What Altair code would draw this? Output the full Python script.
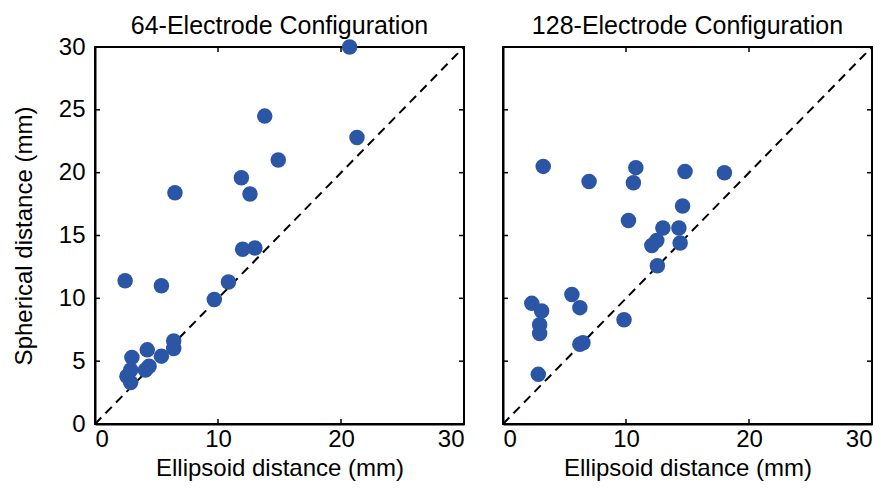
import altair as alt
import pandas as pd

# 64-electrode configuration
x64 = [20.7, 13.8, 21.3, 14.9, 11.9, 6.5, 12.6, 12.0, 13.0, 2.45, 5.4, 10.85, 9.7,
       6.4, 6.4, 4.25, 5.4, 3.0, 4.4, 4.1, 2.6, 2.9, 2.9]
y64 = [30.0, 24.5, 22.8, 21.0, 19.6, 18.4, 18.3, 13.9, 14.0, 11.4, 11.0, 11.3, 9.9,
       6.6, 6.0, 5.9, 5.4, 5.3, 4.6, 4.3, 3.8, 3.3, 4.3]

# 128-electrode configuration
x128 = [3.27, 7.0, 10.8, 10.6, 14.8, 18.0, 14.6, 10.2, 13.0, 14.3, 12.5, 12.1, 14.4,
        12.55, 2.34, 5.6, 3.14, 6.25, 2.98, 2.98, 9.84, 6.25, 6.5, 2.87]
y128 = [20.5, 19.3, 20.4, 19.2, 20.1, 20.0, 17.35, 16.2, 15.6, 15.6, 14.6, 14.2, 14.4,
        12.6, 9.6, 10.3, 9.0, 9.26, 7.9, 7.2, 8.3, 6.34, 6.47, 3.95]

titles = ["64-Electrode Configuration", "128-Electrode Configuration"]
x_ticks = [0, 10, 20, 30]
y_ticks = [0, 5, 10, 15, 20, 25, 30]
diag = [0, 30]

W, H = 369, 377
BLUE = "#2b55a5"
FONT = "Liberation Sans"


def panel(xs, ys, title, show_y, title_offset):
    df = pd.DataFrame({"x": xs, "y": ys})
    xsc = alt.Scale(domain=[0, 30], nice=False)
    ysc = alt.Scale(domain=[0, 30], nice=False)
    xax = alt.Axis(values=x_ticks, tickSize=0, labelPadding=3, grid=False,
                   title="Ellipsoid distance (mm)", titlePadding=5)
    yax = alt.Axis(values=y_ticks, tickSize=0, labelPadding=10, grid=False,
                   title="Spherical distance (mm)" if show_y else None,
                   labels=show_y, titlePadding=22)
    pts = alt.Chart(df).mark_circle(size=240, color=BLUE, opacity=1).encode(
        x=alt.X("x:Q", scale=xsc, axis=xax),
        y=alt.Y("y:Q", scale=ysc, axis=yax),
    )
    dd = pd.DataFrame({"x": diag, "y": diag})
    line = alt.Chart(dd).mark_line(color="black", strokeDash=[9, 6], strokeWidth=2).encode(
        x=alt.X("x:Q", scale=xsc), y=alt.Y("y:Q", scale=ysc))
    xt = pd.DataFrame({"v": x_ticks})
    yt = pd.DataFrame({"v": y_ticks})
    tb = alt.Chart(xt).mark_rule(color="black", strokeWidth=1.5).encode(
        x=alt.X("v:Q", scale=xsc), y=alt.value(H), y2=alt.value(H - 5))
    tt = alt.Chart(xt).mark_rule(color="black", strokeWidth=1.5).encode(
        x=alt.X("v:Q", scale=xsc), y=alt.value(0), y2=alt.value(5))
    tl = alt.Chart(yt).mark_rule(color="black", strokeWidth=1.5).encode(
        y=alt.Y("v:Q", scale=ysc), x=alt.value(0), x2=alt.value(5))
    tr = alt.Chart(yt).mark_rule(color="black", strokeWidth=1.5).encode(
        y=alt.Y("v:Q", scale=ysc), x=alt.value(W), x2=alt.value(W - 5))
    return alt.layer(line, pts, tb, tt, tl, tr).properties(
        width=W, height=H,
        title=alt.TitleParams(title, fontSize=25, font=FONT, fontWeight="normal",
                              offset=title_offset, color="black"))


chart = alt.hconcat(
    panel(x64, y64, titles[0], True, -4),
    panel(x128, y128, titles[1], False, 4),
    spacing=29,
).properties(padding={"left": 3, "right": 0, "top": 5, "bottom": 0}).configure_view(
    stroke="black", strokeWidth=2
).configure_axis(
    labelFont=FONT, titleFont=FONT, labelFontSize=24, titleFontSize=24,
    titleFontWeight="normal", labelColor="black", titleColor="black",
    domainColor="black", domainWidth=2,
)

chart.save("out.html", embed_options={"renderer": "svg", "actions": False})
